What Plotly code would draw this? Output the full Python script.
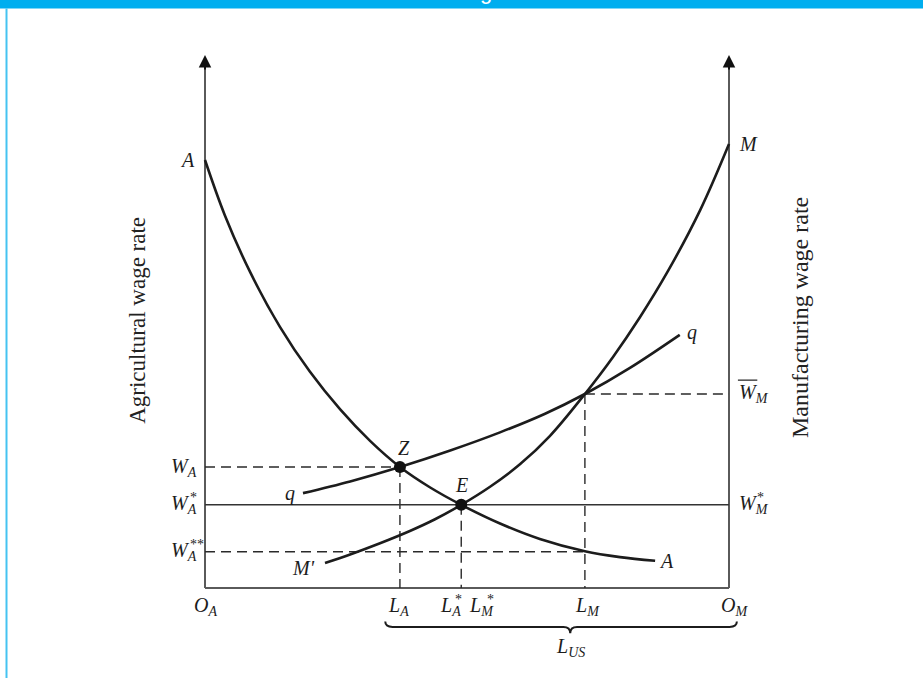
import plotly.graph_objects as go

# ---- key positions: labour measured from O_A (0..100), wage index (0..100)
L_A, L_STAR, L_M, L_TOTAL = 37.2, 48.9, 72.5, 100.0
W_A, W_STAR, W_SS, W_MBAR = 22.7, 15.6, 6.8, 36.4
AXIS_TOP = 100.0

# Agricultural demand for labour (A ... A)
a_x = [0, 3.8, 8.6, 14.3, 20.0, 25.8, 31.5, 37.2, 42.9, 48.9, 56.3, 63.9, 72.5, 79.2, 85.9]
a_y = [80.3, 69.9, 59.3, 49.0, 40.6, 33.5, 27.6, 22.7, 18.9, 15.6, 12.1, 9.2, 6.9, 5.8, 5.1]

# Manufacturing demand for labour (M' ... M)
m_x = [22.9, 27.7, 33.4, 39.1, 43.9, 48.9, 54.4, 60.1, 65.8, 72.5, 77.9, 83.0, 88.2, 94.5, 100.0]
m_y = [4.7, 6.3, 8.4, 10.7, 12.9, 15.6, 19.0, 23.2, 28.5, 36.4, 43.4, 50.8, 59.2, 70.9, 83.3]

# q ... q curve
q_x = [18.7, 27.7, 37.2, 46.8, 56.3, 64.9, 72.5, 81.1, 90.6]
q_y = [17.8, 20.0, 22.7, 25.8, 29.2, 32.7, 36.4, 41.3, 47.5]

FONT = "Liberation Serif"
INK = "#1c1c1c"
AXIS = "#5a5a5a"

fig = go.Figure()

def line(x, y, color=INK, width=2.6, dash="solid", shape="linear"):
    fig.add_trace(go.Scatter(x=x, y=y, mode="lines", hoverinfo="skip",
                             line=dict(color=color, width=width, dash=dash, shape=shape),
                             showlegend=False))

# axes
line([0, 0], [0, AXIS_TOP - 2], AXIS, 2)
line([L_TOTAL, L_TOTAL], [0, AXIS_TOP - 2], AXIS, 2)
line([0, L_TOTAL], [0, 0], AXIS, 2)

# guide lines
DASH = "10px,6px"
GUIDE = "#2a2a2a"
line([0, L_A], [W_A, W_A], GUIDE, 1.4, DASH)
line([L_A, L_A], [W_A, 0], GUIDE, 1.4, DASH)
line([0, L_M], [W_SS, W_SS], GUIDE, 1.4, DASH)
line([L_M, L_M], [W_MBAR, 0], GUIDE, 1.4, DASH)
line([L_M, L_TOTAL], [W_MBAR, W_MBAR], GUIDE, 1.4, DASH)
line([L_STAR, L_STAR], [W_STAR, 0], GUIDE, 1.4, DASH)
line([0, L_TOTAL], [W_STAR, W_STAR], "#333333", 1.5)

# curves
line(a_x, a_y, shape="spline")
line(m_x, m_y, shape="spline")
line(q_x, q_y, shape="spline")

# points Z and E
fig.add_trace(go.Scatter(x=[L_A, L_STAR], y=[W_A, W_STAR], mode="markers",
                         marker=dict(color="#111111", size=12), hoverinfo="skip",
                         showlegend=False))

# arrow heads on the vertical axes
for xa in (0, L_TOTAL):
    fig.add_annotation(x=xa, y=AXIS_TOP, ax=xa, ay=AXIS_TOP - 3, xref="x", yref="y",
                       axref="x", ayref="y", text="", showarrow=True,
                       arrowhead=2, arrowsize=1.25, arrowwidth=2, arrowcolor="#111111")

def label(x, y, text, size=20, xanchor="center", yanchor="middle", angle=0, color=INK, italic=True):
    t = f"<i>{text}</i>" if italic else text
    fig.add_annotation(x=x, y=y, xref="x", yref="y", text=t, showarrow=False,
                       xanchor=xanchor, yanchor=yanchor, textangle=angle,
                       font=dict(family=FONT, size=size, color=color))

# curve labels
label(-1.5, a_y[0], "A", xanchor="right")
label(101.5, m_y[-1], "M", xanchor="left")
label(q_x[-1] + 1.0, q_y[-1] + 0.5, "q", xanchor="left")
label(q_x[0] - 1.2, q_y[0], "q", xanchor="right")
label(m_x[0] - 1.6, m_y[0] - 1.0, "M'", xanchor="right")
label(a_x[-1] + 0.4, a_y[-1], "A", xanchor="left")
label(L_A + 0.8, W_A + 3.5, "Z")
label(L_STAR, W_STAR + 3.8, "E")

STAR = 14
# wage labels (left)
label(-1.2, W_A, "W<sub>A</sub>", xanchor="right")
label(-1.2, W_STAR, "W<sub>A</sub>", xanchor="right")
label(-3.2, W_STAR + 1.3, "*", size=STAR, xanchor="left", italic=False)
label(-1.2, W_SS, "W<sub>A</sub>", xanchor="right")
label(-3.2, W_SS + 1.3, "**", size=STAR, xanchor="left", italic=False)
# wage labels (right)
label(101.5, W_MBAR, "W<sub>M</sub>", xanchor="left")
fig.add_shape(type="line", xref="x", yref="y", x0=101.7, x1=105.4, y0=W_MBAR + 2.6,
              y1=W_MBAR + 2.6, line=dict(color=INK, width=1.2))
label(101.5, W_STAR, "W<sub>M</sub>", xanchor="left")
label(105.0, W_STAR + 1.3, "*", size=STAR, xanchor="left", italic=False)

# labour labels (bottom)
YB = -3.4
label(0, YB, "O<sub>A</sub>")
label(L_A - 0.3, YB, "L<sub>A</sub>")
label(L_STAR - 2.0, YB, "L<sub>A</sub>")
label(L_STAR - 1.6, YB + 1.3, "*", size=STAR, xanchor="left", italic=False)
label(L_STAR + 3.8, YB, "L<sub>M</sub>")
label(L_STAR + 4.5, YB + 1.3, "*", size=STAR, xanchor="left", italic=False)
label(L_M + 0.5, YB, "L<sub>M</sub>")
label(L_TOTAL + 1.0, YB, "O<sub>M</sub>")
label(69.7, -11.2, "L<sub>US</sub>")

# brace under the labour segment
fig.add_shape(type="path", xref="x", yref="y",
              path="M 34.4,-6.3 Q 34.4,-7.3 35.8,-7.3 L 68.4,-7.3 Q 69.7,-7.3 69.7,-8.5 "
                   "Q 69.7,-7.3 71.0,-7.3 L 100.1,-7.3 Q 101.5,-7.3 101.5,-6.3",
              line=dict(color=INK, width=2))

# axis titles
label(-12.8, 50.3, "Agricultural wage rate", size=23, angle=-90, color="#222222", italic=False)
label(113.5, 50.8, "Manufacturing wage rate", size=24, angle=-90, color="#222222", italic=False)

# page frame: blue band on top, thin blue rule on the left
fig.add_shape(type="rect", xref="paper", yref="paper", x0=0, x1=1, y0=1 - 8.5 / 678, y1=1,
              fillcolor="#00AEEF", line=dict(width=0), layer="below")
fig.add_shape(type="line", xref="paper", yref="paper", x0=6.5 / 923, x1=6.5 / 923, y0=0,
              y1=1 - 8.5 / 678, line=dict(color="#45C3F1", width=2), layer="below")
fig.add_annotation(xref="paper", yref="paper", x=486 / 923, y=1 + 9 / 678, text="g",
                   showarrow=False, xanchor="center", yanchor="middle",
                   font=dict(family="Liberation Sans", size=22, color="white"))

fig.update_layout(
    width=923, height=678, margin=dict(l=0, r=0, t=0, b=0),
    paper_bgcolor="white", plot_bgcolor="white",
    xaxis=dict(range=[-205 / 5.24, (923 - 205) / 5.24], visible=False, fixedrange=True),
    yaxis=dict(range=[(588 - 678) / 5.33, 588 / 5.33], visible=False, fixedrange=True),
    showlegend=False,
)

fig.write_html("out.html", config={"displayModeBar": False},
               post_script="document.body.style.margin='0';document.body.style.overflow='hidden';")
